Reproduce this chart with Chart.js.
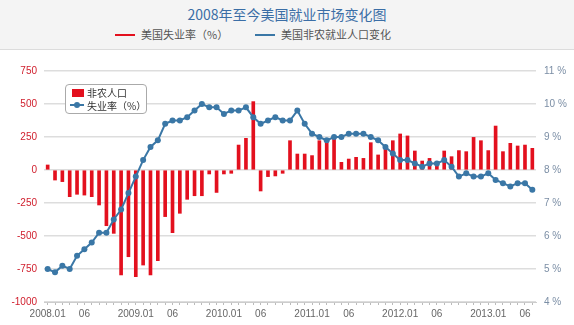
<!DOCTYPE html>
<html>
<head>
<meta charset="utf-8">
<script src="https://cdn.jsdelivr.net/npm/chart.js@4.4.1/dist/chart.umd.min.js"></script>
<style>
  html, body { margin: 0; padding: 0; }
  body { width: 574px; height: 325px; position: relative; overflow: hidden; background: #fff;
         font-family: "Liberation Sans", "Noto Sans CJK SC", sans-serif; }
  #head { position: absolute; left: 0; top: 0; width: 574px; height: 49px; background: #f4f4f4;
          border-bottom: 1px solid #dcdcdc; }
  #title { position: absolute; left: 0; width: 574px; top: 4px; text-align: center; font-size: 14px;
           color: #3b6ea6; font-family: "Noto Sans CJK SC", sans-serif; }
  .lg { position: absolute; top: 26px; font-size: 11px; color: #555; font-family: "Noto Sans CJK SC", sans-serif; }
  .lg i { display: inline-block; width: 20px; height: 2px; vertical-align: middle; margin-right: 6px; position: relative; top: -1px; }
  #box { position: absolute; left: 65px; top: 84px; width: 80px; height: 28px; background: #fff;
         border: 1px solid #aaa; border-radius: 4px; font-size: 10px; color: #333;
         font-family: "Noto Sans CJK SC", sans-serif; }
  #box div { position: absolute; left: 21px; }
  #wrap { position: absolute; left: 0; top: 50px; width: 574px; height: 275px; }
</style>
</head>
<body>
<div id="head">
  <div id="title">2008年至今美国就业市场变化图</div>
  <div class="lg" style="left:115px"><i style="background:#e3101e"></i>美国失业率（%）</div>
  <div class="lg" style="left:255px"><i style="background:#3a77a6"></i>美国非农就业人口变化</div>
</div>
<div id="wrap"><canvas id="myChart"></canvas></div>
<div id="box">
  <span style="position:absolute;left:6px;top:4px;width:12px;height:8px;background:#e3101e"></span>
  <div style="top:0px">非农人口</div>
  <span style="position:absolute;left:4px;top:19px;width:14px;height:2px;background:#3a77a6"></span>
  <span style="position:absolute;left:8px;top:17px;width:6px;height:6px;border-radius:3px;background:#3a77a6"></span>
  <div style="top:13px">失业率（%）</div>
</div>
<script>
// months 2008.01 - 2013.07
var years = ['2008','2009','2010','2011','2012','2013'];
var months = [];
for (var y = 0; y < years.length; y++) {
  for (var m = 1; m <= 12; m++) {
    if (years[y] == '2013' && m > 7) break;
    months.push(years[y] + '.' + (m < 10 ? '0' + m : m));
  }
}
// shown tick labels (index -> text)
var tickIdx = [0, 5, 12, 17, 24, 29, 36, 41, 48, 53, 60, 65];
var tickTxt = ['2008.01','06','2009.01','06','2010.01','06','2011.01','06','2012.01','06','2013.01','06'];

// nonfarm payroll change (thousands)
var payrolls = [
  38, -76, -88, -202, -184, -190, -202, -265, -422, -480, -795, -657,   // 2008
  -808, -720, -795, -687, -353, -475, -328, -222, -195, -195, -30, -170, // 2009
  -30, -25, 189, 240, 518, -159, -50, -45, -25, 222, 121, 121,          // 2010
  109, 222, 222, 235, 58, 83, 96, 88, 207, 114, 164, 222,               // 2011
  273, 258, 144, 68, 88, 63, 144, 101, 147, 139, 247, 222,              // 2012
  147, 333, 139, 202, 182, 189, 164                                     // 2013
];
// unemployment rate (%)
var jobless = [
  5.0, 4.9, 5.1, 5.0, 5.4, 5.6, 5.8, 6.1, 6.1, 6.5, 6.8, 7.3,
  7.8, 8.3, 8.7, 8.9, 9.4, 9.5, 9.5, 9.6, 9.8, 10.0, 9.9, 9.9,
  9.7, 9.8, 9.8, 9.9, 9.6, 9.4, 9.5, 9.6, 9.5, 9.5, 9.8, 9.4,
  9.1, 9.0, 8.9, 9.0, 9.0, 9.1, 9.1, 9.1, 9.0, 8.9, 8.7, 8.5,
  8.3, 8.3, 8.2, 8.1, 8.2, 8.2, 8.3, 8.1, 7.8, 7.9, 7.8, 7.8,
  7.9, 7.7, 7.6, 7.5, 7.6, 7.6, 7.4
];
var leftTicks = [-1000, 750, 250];
var rightTicks = [4, 11, 1];

Chart.defaults.font.family = '"Liberation Sans", "Noto Sans CJK SC", sans-serif';
var ctx = document.getElementById('myChart').getContext('2d');
new Chart(ctx, {
  data: {
    labels: months,
    datasets: [{
      type: 'line',
      label: '失业率（%）',
      data: jobless,
      yAxisID: 'y1',
      borderColor: '#3a77a6',
      backgroundColor: '#3a77a6',
      borderWidth: 2,
      pointRadius: 3,
      pointBorderWidth: 0,
      tension: 0,
      clip: false,
      order: 0
    }, {
      type: 'bar',
      label: '非农人口',
      data: payrolls,
      yAxisID: 'y',
      backgroundColor: '#e3101e',
      barThickness: 3,
      clip: false,
      order: 1
    }]
  },
  options: {
    animation: false,
    responsive: true,
    maintainAspectRatio: false,
    layout: { padding: { top: 21, left: 0, right: 0, bottom: 0 } },
    plugins: { legend: { display: false }, tooltip: { enabled: false } },
    scales: {
      x: {
        offset: true,
        afterFit: function (s) { s.height = 23; },
        grid: { drawOnChartArea: false, offset: false, tickLength: 3, color: '#bbb' },
        border: { color: '#ccc' },
        ticks: {
          autoSkip: false, maxRotation: 0, minRotation: 0, padding: 3,
          color: '#666', font: { size: 10 },
          callback: function (v, i) { var k = tickIdx.indexOf(i); return k < 0 ? '' : tickTxt[k]; }
        }
      },
      y: {
        position: 'left',
        min: leftTicks[0], max: leftTicks[1],
        afterFit: function (s) { s.width = 44; },
        border: { display: false },
        grid: { color: '#dddddd', lineWidth: 1.5, drawTicks: false },
        ticks: { stepSize: leftTicks[2], padding: 7, color: '#d0202e', font: { size: 10 },
          callback: function (v) { return String(v); } }
      },
      y1: {
        position: 'right',
        min: rightTicks[0], max: rightTicks[1],
        afterFit: function (s) { s.width = 38; },
        border: { display: false },
        grid: { drawOnChartArea: false, drawTicks: false },
        ticks: { stepSize: rightTicks[2], padding: 8, color: '#7b8ea5', font: { size: 10 },
          callback: function (v) { return v + ' %'; } }
      }
    }
  }
});
</script>
</body>
</html>
